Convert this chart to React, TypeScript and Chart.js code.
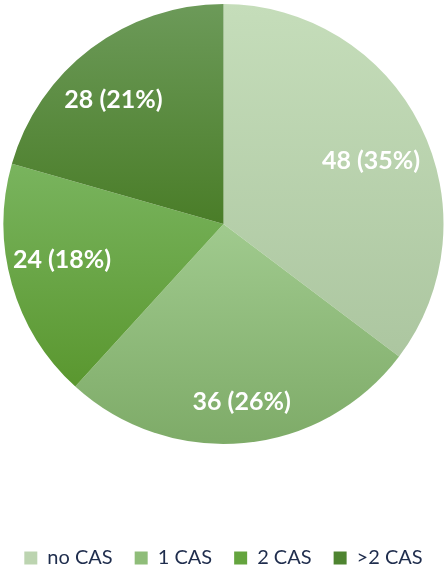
import React, { useEffect, useRef } from "react";
import { Chart, registerables } from "chart.js";

Chart.register(...registerables);

const categories = ["no CAS", "1 CAS", "2 CAS", ">2 CAS"];
const counts = [48, 36, 24, 28];

// styling (not data)
const TOP_COLORS = ["#c5ddba", "#a0ca8e", "#79b45e", "#6c9a59"];
const BOTTOM_COLORS = ["#acc6a0", "#7eab68", "#5a972f", "#4a7d28"];
const LEGEND_COLORS = ["#bcd4b0", "#8fbd79", "#64a43e", "#4e8430"];
const PIE_RADIUS = 220;
// label placement: [fraction of radius, angle nudge in degrees]
const LABEL_PLACE: [number, number][] = [
  [0.73, 3.2],
  [0.815, -0.5],
  [0.752, 3.3],
  [0.754, -4.5],
];

const total = counts.reduce((a, b) => a + b, 0);

function sliceFill(c: any) {
  const i = c.dataIndex;
  const chart = c.chart;
  const area = chart.chartArea;
  if (i === undefined || !area) return LEGEND_COLORS[i ?? 0];
  const cy = (area.top + area.bottom) / 2;
  const r = PIE_RADIUS;
  let cum = 0;
  for (let k = 0; k < i; k++) cum += counts[k];
  const a0 = -Math.PI / 2 + (2 * Math.PI * cum) / total;
  const a1 = a0 + (2 * Math.PI * counts[i]) / total;
  const ys = [cy, cy + r * Math.sin(a0), cy + r * Math.sin(a1)];
  if (a0 <= Math.PI / 2 && a1 >= Math.PI / 2) ys.push(cy + r);
  if (a0 <= -Math.PI / 2 + 1e-6 || a1 >= (3 * Math.PI) / 2 - 1e-6) ys.push(cy - r);
  const minY = Math.min(...ys);
  const maxY = Math.max(...ys);
  const g = chart.ctx.createLinearGradient(0, minY, 0, maxY);
  g.addColorStop(0, TOP_COLORS[i]);
  g.addColorStop(1, BOTTOM_COLORS[i]);
  return g;
}

const labelPlugin = {
  id: "sliceLabels",
  afterDatasetsDraw(chart: any) {
    const meta = chart.getDatasetMeta(0);
    const ctx = chart.ctx;
    ctx.save();
    ctx.font = "bold 25px Lato";
    ctx.fillStyle = "#ffffff";
    ctx.textAlign = "center";
    ctx.textBaseline = "middle";
    meta.data.forEach((arc: any, i: number) => {
      const { x, y, startAngle, endAngle, outerRadius } = arc.getProps(
        ["x", "y", "startAngle", "endAngle", "outerRadius"],
        true
      );
      const [f, nudge] = LABEL_PLACE[i];
      const mid = (startAngle + endAngle) / 2 + (nudge * Math.PI) / 180;
      const d = outerRadius * f;
      const pct = Math.round((counts[i] / total) * 100);
      ctx.fillText(`${counts[i]} (${pct}%)`, x + d * Math.cos(mid), y + d * Math.sin(mid));
    });
    ctx.restore();
  },
};

export default function App() {
  const ref = useRef<HTMLCanvasElement>(null);
  useEffect(() => {
    document.body.style.margin = "0";
    const canvas = ref.current!;
    Chart.defaults.font.family = "Lato";
    const chart = new Chart(canvas, {
      type: "pie",
      data: {
        labels: categories,
        datasets: [
          {
            data: counts,
            backgroundColor: sliceFill as any,
            borderWidth: 0,
            radius: PIE_RADIUS,
          } as any,
        ],
      },
      options: {
        responsive: false,
        animation: false,
        layout: { padding: { top: 0, left: 0, right: 0, bottom: -8 } },
        plugins: {
          tooltip: { enabled: false },
          legend: {
            position: "bottom",
            title: {
              display: true,
              text: "",
              padding: { top: 68, bottom: 0 },
              font: { size: 10, lineHeight: 1 },
            },
            labels: {
              boxWidth: 13,
              boxHeight: 13,
              padding: 22,
              color: "#1f2d4d",
              font: { size: 20, family: "Lato" },
              generateLabels: (ch: any) => {
                const items = Chart.overrides.pie.plugins.legend.labels.generateLabels(ch);
                return items.map((it: any, i: number) => ({
                  ...it,
                  fillStyle: LEGEND_COLORS[i],
                  strokeStyle: LEGEND_COLORS[i],
                  lineWidth: 0,
                }));
              },
            },
          },
        },
      },
      plugins: [labelPlugin],
    });
    return () => chart.destroy();
  }, []);
  return (
    <div style={{ width: 447, height: 570 }}>
      <canvas ref={ref} width={447} height={570} />
    </div>
  );
}
